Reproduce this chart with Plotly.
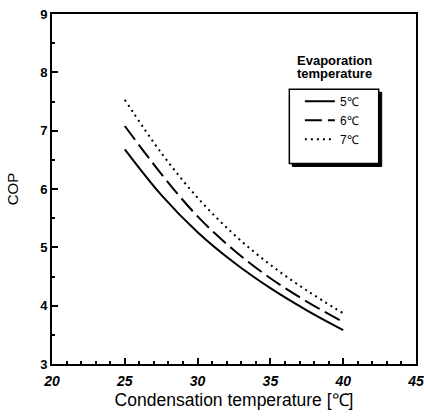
import plotly.graph_objects as go

cond_temp = [25, 27.5, 30, 32.5, 35, 37.5, 40]
cop_5 = [6.68, 5.90, 5.26, 4.74, 4.30, 3.92, 3.58]
cop_6 = [7.08, 6.26, 5.53, 4.95, 4.47, 4.07, 3.72]
cop_7 = [7.53, 6.62, 5.85, 5.22, 4.70, 4.26, 3.87]
series_names = ["5℃", "6℃", "7℃"]

FONT = "Liberation Sans, Arial, sans-serif"

fig = go.Figure()
styles = ["solid", "17px,6px", "2px,4px"]
for name, vals, dash in zip(series_names, [cop_5, cop_6, cop_7], styles):
    fig.add_trace(go.Scatter(
        x=cond_temp, y=vals, mode="lines", name=name,
        line=dict(color="black", width=2, dash=dash, shape="spline", smoothing=1.0),
    ))

# legend box with shadow
bx0, bx1, by0, by1 = 0.652, 0.8975, 0.573, 0.785
dx, dy = 3 / 364, 3 / 350
fig.add_shape(type="rect", xref="paper", yref="paper",
              x0=bx0 + dx, x1=bx1 + dx, y0=by0 - dy, y1=by1 - dy,
              fillcolor="black", line=dict(color="black", width=1))
fig.add_shape(type="rect", xref="paper", yref="paper",
              x0=bx0, x1=bx1, y0=by0, y1=by1,
              fillcolor="white", line=dict(color="black", width=1.5))

for txt, yy in [("<b>Evaporation</b>", 0.866), ("<b>temperature</b>", 0.830)]:
    fig.add_annotation(text=txt, xref="paper", yref="paper",
                       x=0.777, y=yy, xanchor="center", yanchor="middle", showarrow=False,
                       font=dict(family=FONT, size=13, color="black"))

fig.update_layout(
    width=424, height=420,
    margin=dict(l=52, r=8, t=14, b=56),
    paper_bgcolor="white", plot_bgcolor="white",
    font=dict(family=FONT, color="black"),
    showlegend=True,
    legend=dict(x=0.681, y=0.792, xanchor="left", yanchor="top",
                bgcolor="rgba(0,0,0,0)", borderwidth=0,
                font=dict(family=FONT, size=12, color="black"),
                tracegroupgap=0, itemwidth=30),
    xaxis=dict(range=[20, 45], dtick=5, tick0=20, ticks="inside", ticklen=6, tickwidth=1.5,
               tickcolor="black", showline=True, linecolor="black", linewidth=2, mirror=True,
               showgrid=False, zeroline=False, automargin=False, ticklabelstandoff=3,
               ticklabeloverflow="allow",
               minor=dict(dtick=1, ticks="inside", ticklen=3, tickwidth=1.5, tickcolor="black", showgrid=False),
               tickfont=dict(family=FONT, size=14, color="black", style="italic", weight="bold"),
               title=dict(text="Condensation temperature [℃]", standoff=6,
                          font=dict(family=FONT, size=17.5, color="black"))),
    yaxis=dict(range=[3, 9], dtick=1, tick0=3, ticks="inside", ticklen=6, tickwidth=1.5,
               tickcolor="black", showline=True, linecolor="black", linewidth=2, mirror=True,
               showgrid=False, zeroline=False, automargin=False, ticklabeloverflow="allow",
               minor=dict(dtick=0.5, ticks="inside", ticklen=3, tickwidth=1.5, tickcolor="black", showgrid=False),
               tickfont=dict(family=FONT, size=13, color="black", weight="bold"),
               title=dict(text="COP", standoff=18,
                          font=dict(family=FONT, size=15, color="black"))),
)

fig.write_html("out.html", config={"displayModeBar": False},
               post_script="document.body.style.margin='0';")
